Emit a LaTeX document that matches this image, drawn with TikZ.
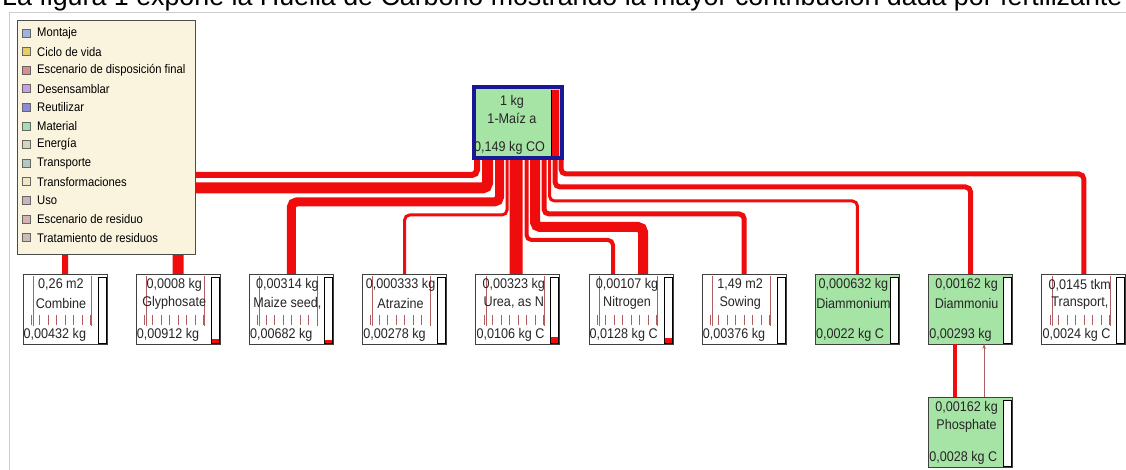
\documentclass[tikz,border=0pt]{standalone}
\usepackage{fontspec}
\setmainfont{Liberation Sans}
\newfontfamily\boxfont[FakeStretch=0.9]{Liberation Sans}
\usetikzlibrary{positioning}
\usetikzlibrary{arrows.meta}
\usetikzlibrary{backgrounds}

\definecolor{flowred}{RGB}{238,12,12}
\definecolor{procgreen}{RGB}{166,228,166}
\definecolor{mainblue}{RGB}{24,24,150}
\definecolor{legendbg}{RGB}{250,243,221}
\definecolor{rulered}{RGB}{175,95,95}
\definecolor{framegray}{RGB}{205,205,205}
\definecolor{cMontaje}{RGB}{160,178,222}
\definecolor{cCiclo}{RGB}{230,205,100}
\definecolor{cEscFinal}{RGB}{220,140,140}
\definecolor{cDesens}{RGB}{200,160,225}
\definecolor{cReutil}{RGB}{140,140,220}
\definecolor{cMaterial}{RGB}{160,225,175}
\definecolor{cEnergia}{RGB}{210,215,180}
\definecolor{cTransp}{RGB}{180,200,190}
\definecolor{cTransf}{RGB}{240,232,195}
\definecolor{cUso}{RGB}{200,180,185}
\definecolor{cEscRes}{RGB}{215,180,180}
\definecolor{cTrat}{RGB}{200,190,180}

\begin{document}
\begin{tikzpicture}[x=1pt, y=-1pt,
  proc/.style={draw=black!75, line width=0.8pt, fill=white, minimum width=84pt, minimum height=70pt, inner sep=0pt, outer sep=0pt},
  green proc/.style={proc, fill=procgreen},
  main/.style={draw=mainblue, line width=4pt, fill=procgreen, minimum width=88pt, minimum height=71pt, inner sep=0pt, outer sep=0pt},
  val/.style={font=\boxfont\fontsize{14}{16}\selectfont, text=black!85, inner sep=0pt},
  legtext/.style={font=\boxfont\fontsize{12.5}{14}\selectfont, anchor=west, inner sep=0pt},
  legbox/.style={draw=black!60, line width=0.7pt, minimum size=8pt, inner sep=0pt},
  flow/.style={draw=flowred, line cap=butt, rounded corners=5pt},
  bar/.style={draw=black, line width=1pt, fill=white},
  rule/.style={draw=rulered, line width=0.5pt},
  frame/.style={draw=framegray, line width=0.8pt}
]
\useasboundingbox (0,0) rectangle (1126,470);

\node[anchor=base west, inner sep=0pt, font=\fontsize{26.8}{30}\selectfont] (caption) at (2,6)
  {La figura 1 expone la Huella de Carbono mostrando la mayor contribución dada por fertilizante};

% main process
\node[main] (main) at (518,122.5) {};
\fill[flowred] ([shift={(-11,3)}]main.north east) rectangle ([shift={(-3,-2)}]main.south east);
\draw[black, line width=0.6pt] ([shift={(-11,3)}]main.north east) -- ([shift={(-11,-2)}]main.south east);
\node[val] (main-q) at ([shift={(-6,15)}]main.north) {1 kg};
\node[val] (main-p) at ([shift={(-6,31)}]main.north) {1-Maíz a};
\node[val, anchor=west] (main-c) at ([shift={(0,-10)}]main.south west) {0,149 kg CO};

% inputs
\node[proc, anchor=north west] (combine) at (23,274) {};
\node[proc, right=29.2pt of combine] (glyph) {};
\node[proc, right=29.2pt of glyph] (maize) {};
\node[proc, right=29.2pt of maize] (atraz) {};
\node[proc, right=29.2pt of atraz] (urea) {};
\node[proc, right=29.2pt of urea] (nitro) {};
\node[proc, right=29.2pt of nitro] (sowing) {};
\node[green proc, right=29.2pt of sowing] (diam1) {};
\node[green proc, right=29.2pt of diam1] (diam2) {};
\node[proc, right=29.2pt of diam2] (transp) {};
\node[green proc, below=53pt of diam2] (phos) {};

\foreach \n in {combine,glyph,maize,atraz,urea,nitro,sowing,transp}{
  \foreach \k in {0,...,7}
    \draw[rule] ([shift={(8+8.5*\k,41)}]\n.north west) -- ++(0,10);
  \draw[rule] ([shift={(10,2)}]\n.north west) -- ([shift={(10,-18)}]\n.south west);
  \draw[rule] ([shift={(68,2)}]\n.north west) -- ([shift={(68,-18)}]\n.south west);
}

\foreach \n in {combine,glyph,maize,atraz,urea,nitro,sowing,diam1,diam2,transp,phos}
  \draw[bar] ([shift={(-9,3)}]\n.north east) rectangle ([shift={(-1,-1)}]\n.south east);
\foreach \n/\h in {glyph/4, maize/3, urea/6, nitro/5}
  \fill[flowred] ([shift={(-8.5,-1.5-\h)}]\n.south east) rectangle ([shift={(-1.5,-1.5)}]\n.south east);

\foreach \n/\q/\p/\c in {combine/{0,26 m2}/Combine/{0,00432 kg},
    glyph/{0,0008 kg}/Glyphosate/{0,00912 kg},
    maize/{0,00314 kg}/{Maize seed,}/{0,00682 kg},
    atraz/{0,000333 kg}/Atrazine/{0,00278 kg},
    urea/{0,00323 kg}/{Urea, as N}/{0,0106 kg C},
    nitro/{0,00107 kg}/Nitrogen/{0,0128 kg C},
    sowing/{1,49 m2}/Sowing/{0,00376 kg},
    diam1/{0,000632 kg}/Diammonium/{0,0022 kg C},
    diam2/{0,00162 kg}/Diammoniu/{0,00293 kg},
    transp/{0,0145 tkm}/{Transport,}/{0,0024 kg C},
    phos/{0,00162 kg}/Phosphate/{0,0028 kg C}}{
  \node[val] (\n-q) at ([shift={(38,11)}]\n.north west) {\q};
  \node[val] (\n-p) at ([shift={(38,29)}]\n.north west) {\p};
  \node[val, anchor=west] (\n-c) at ([shift={(0.5,-9)}]\n.south west) {\c};
}

% legend
\node[draw=black!70, fill=legendbg, line width=0.9pt, minimum width=178pt, minimum height=234pt,
  anchor=north west, inner sep=0pt, outer sep=0pt] (legend) at (17,20) {};
\foreach \c/\t [count=\i from 0] in {cMontaje/Montaje, cCiclo/Ciclo de vida,
    cEscFinal/Escenario de disposición final, cDesens/Desensamblar, cReutil/Reutilizar,
    cMaterial/Material, cEnergia/Energía, cTransp/Transporte, cTransf/Transformaciones,
    cUso/Uso, cEscRes/Escenario de residuo, cTrat/Tratamiento de residuos}{
  \node[legbox, fill=\c] (leg\i) at ([shift={(9,13+18.6*\i)}]legend.north west) {};
  \node[legtext] (legt\i) at ([shift={(20,13+18.6*\i)}]legend.north west) {\t};
}

% flows
\begin{scope}[on background layer]
\draw[frame] (9,470) |- (1126,12);
\foreach \s/\d/\t/\o/\w in {3/17/combine/0/6, 13.5/30/glyph/0/11, 25.5/44/maize/0/9,
    33/57/atraz/0/3, 52.5/82/nitro/-18/4, 61/69/nitro/12/10, 70/56/sowing/0/5,
    75.5/43/diam1/0/3, 81/29/diam2/0/5, 87/16/transp/0/5}
  \draw[flow, line width=\w pt] ([xshift=\s pt]main.south west) -- ++(0,\d) -| ([xshift=\o pt]\t.north);
\draw[flow, line width=13pt] ([xshift=42pt]main.south west) -- ([xshift=-1.8pt]urea.north);
\end{scope}

\draw[flow, line width=4pt] ([xshift=-15.5pt]diam2.south) -- ([xshift=-15.5pt]phos.north);
\draw[rulered, line width=0.8pt, -{Stealth[length=5pt,width=3.5pt]}] ([xshift=13.5pt]phos.north) -- ([xshift=13.5pt]diam2.south);

\end{tikzpicture}
\end{document}
